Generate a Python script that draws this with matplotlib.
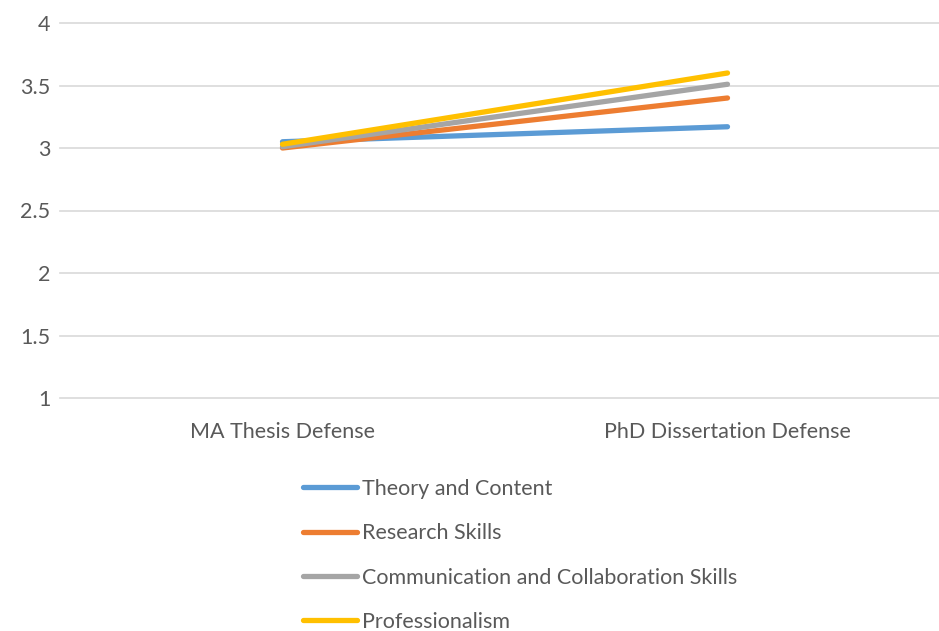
import matplotlib.pyplot as plt

categories = ["MA Thesis Defense", "PhD Dissertation Defense"]
series_names = ["Theory and Content", "Research Skills",
                "Communication and Collaboration Skills", "Professionalism"]
theory = [3.05, 3.17]
research = [3.00, 3.40]
communication = [3.01, 3.51]
professionalism = [3.03, 3.60]
yticks = [1, 1.5, 2, 2.5, 3, 3.5, 4]
ytick_labels = ["1", "1.5", "2", "2.5", "3", "3.5", "4"]

colors = ["#5B9BD5", "#ED7D31", "#A5A5A5", "#FFC000"]
text_color = "#595959"

plt.rcParams["font.family"] = ["Lato", "DejaVu Sans"]

fig = plt.figure(figsize=(9.39, 6.31), dpi=100)
ax = fig.add_axes([60 / 939, 1 - 398 / 631, 890 / 939, (398 - 23) / 631])

x = list(range(len(categories)))
for vals, name, c in zip([theory, research, communication, professionalism], series_names, colors):
    ax.plot(x, vals, color=c, lw=3.8, solid_capstyle="round", label=name)

ax.set_xlim(-0.5, 1.5)
ax.set_ylim(1, 4)
ax.set_yticks(yticks)
ax.set_yticklabels(ytick_labels)
ax.set_xticks(x)
ax.set_xticklabels(categories)
ax.grid(axis="y", color="#D9D9D9", lw=1.2)
for gl in ax.get_ygridlines():
    gl.set_clip_on(False)
ax.set_axisbelow(True)
for s in ax.spines.values():
    s.set_visible(False)
ax.tick_params(length=0, colors=text_color, labelsize=15.5)
ax.tick_params(axis="y", pad=7)
ax.tick_params(axis="x", pad=17)

fig.legend(loc="upper left", bbox_to_anchor=(303 / 939, 1 - 479 / 631), frameon=False,
           fontsize=15.5, labelcolor=text_color, handlelength=2.5, handletextpad=0.25,
           labelspacing=1.13, borderpad=0, borderaxespad=0)

fig.savefig("out.png", dpi=100)
